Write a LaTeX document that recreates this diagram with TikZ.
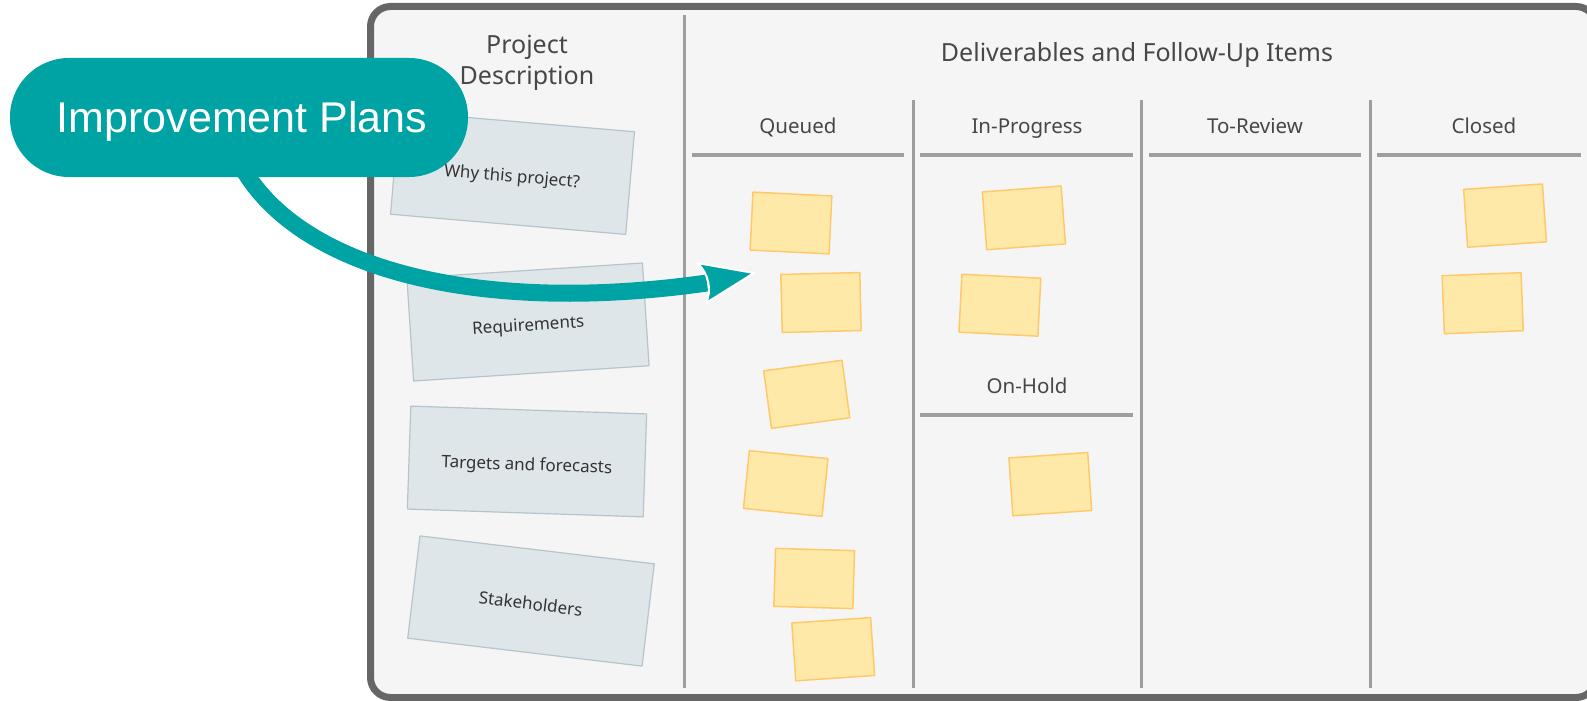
\documentclass[tikz,border=0pt]{standalone}
\usepackage{fontspec}
\setmainfont{Noto Sans}
\newfontfamily\plansfont{Liberation Sans}
\definecolor{boardedge}{HTML}{666666}
\definecolor{boardfill}{HTML}{F5F5F5}
\definecolor{lanegray}{HTML}{9E9E9E}
\definecolor{cardfill}{HTML}{DFE6E9}
\definecolor{cardedge}{HTML}{B7C4CB}
\definecolor{stickyfill}{HTML}{FFE9A8}
\definecolor{stickyedge}{HTML}{FFC96B}
\definecolor{planteal}{HTML}{00A3A3}
\definecolor{headtext}{HTML}{474747}
\tikzset{
  lane/.style={lanegray, line width=3pt},
  colhead/.style={text=headtext, font=\fontsize{20.5}{25}\selectfont, text height=15.6pt, text depth=5pt},
  bighead/.style={text=headtext, font=\fontsize{25}{31}\selectfont},
  card/.style={draw=cardedge, fill=cardfill, line width=1.2pt, minimum width=236pt, minimum height=103pt, inner sep=0pt, text=black!80, font=\fontsize{17}{20}\selectfont, text height=18pt, text depth=0pt},
  sticky/.style={draw=stickyedge, fill=stickyfill, line width=1.5pt, minimum width=79pt, minimum height=58pt, inner sep=0pt}
}
\begin{document}
\begin{tikzpicture}[x=1pt, y=-1pt, line join=round]
  \useasboundingbox (0,0) rectangle (1587,701);
  \clip (0,0) rectangle (1587,701);
  % board
  \draw[boardedge, fill=boardfill, line width=7pt, rounded corners=20pt] (370.5,6.5) rectangle (1596,697.5);
  \draw[lane] (684,15) -- (684,688);
  \foreach \x in {913,1141,1370} \draw[lane] (\x,100) -- (\x,688);
  \foreach \a/\b in {692/904, 920/1133, 1149/1361, 1377/1581} \draw[lane, line width=4pt] (\a,155) -- (\b,155);
  \draw[lane, line width=4pt] (920,415) -- (1133,415);
  % headings
  \node[bighead, align=center] (projdesc) at (527,63) {Project\\Description};
  \node[bighead, text height=19pt, text depth=6pt] (deliv) at (1137,55.2) {Deliverables and Follow-Up Items};
  \foreach \x/\t [count=\i] in {798/Queued, 1027/In-Progress, 1255/To-Review, 1484/Closed}
    \node[colhead] (col\i) at (\x,127.8) {\t};
  \node[colhead] (onhold) at (1027,387.7) {On-Hold};
  % description cards
  \node[card, rotate=-4.9] (why) at (512.5,173) {Why this project?};
  \node[card, rotate=3.7] (req) at (528,322) {Requirements};
  \node[card, rotate=-1.9] (targets) at (527,461.5) {Targets and forecasts};
  \node[card, rotate=-6.8] (stake) at (531,601) {Stakeholders};
  % sticky notes
  \foreach \x/\y/\r [count=\i] in {791/223/-2.8, 821/302.5/1.4, 806.7/394.3/7.7, 785.7/483.5/-5.8, 814.2/578.5/-1.7, 833.2/649.2/3.9,
      1023.9/217.9/4.3, 999.9/305.2/-2.9, 1050.3/484.2/3.9, 1505/215.6/3.9, 1482.7/303.2/2.2}
    \node[sticky, rotate=\r] (note\i) at (\x,\y) {};
  % callout
  \node[fill=planteal, rounded corners=59pt, minimum width=458pt, minimum height=119pt] (imp) at (239,117.5) {};
  \node[text=white, font=\plansfont\fontsize{43}{48}\selectfont, text height=30pt, text depth=0pt] (implabel) at ([xshift=3pt]imp.center) {Improvement Plans};
  \coordinate (headback) at (707,283);
  \coordinate (tip) at (754,273);
  \draw[planteal, line width=17pt] ([shift={(6,-5)}]imp.south) .. controls (308.6,274) and (489,314) .. (headback);
  \fill[planteal, draw=white, line width=2pt] (697,263) -- (tip) -- (706,303) .. controls (712,291) and (709,273) .. cycle;
\end{tikzpicture}
\end{document}
